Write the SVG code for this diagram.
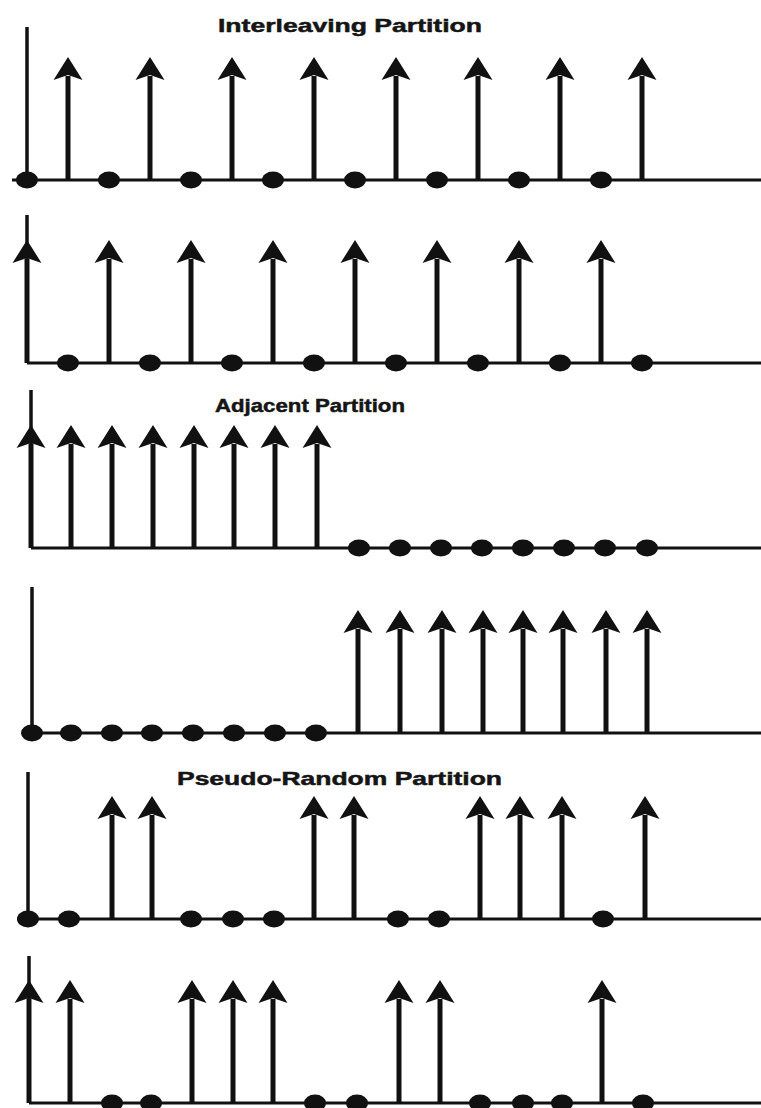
<svg xmlns="http://www.w3.org/2000/svg" xmlns:xlink="http://www.w3.org/1999/xlink" width="761" height="1108" viewBox="0 0 761 1108">
  <style>
    .axis { stroke: #111; stroke-width: 3; fill: none; }
    .yaxis { stroke: #111; stroke-width: 3.5; fill: none; }
    .dot { fill: #111; }
    .title { font-family: "Liberation Sans", Arial, sans-serif; font-weight: bold; font-size: 19px; fill: #151515; stroke: #151515; stroke-width: 0.5; }
  </style>
  <defs>
    <!-- impulse: stem plus notched arrowhead, origin on the axis -->
    <g id="impulse">
      <line x1="0" y1="0" x2="0" y2="-104" stroke="#111" stroke-width="5"/>
      <path d="M0,-123 L14.5,-100 L0,-105 L-14.5,-100 Z" fill="#111"/>
    </g>
    <ellipse id="sample" cx="0" cy="0" rx="11" ry="8.5" class="dot"/>
  </defs>

  <!-- Interleaving partition, first set -->
  <g id="interleave-a">
    <text class="title" x="218" y="32" textLength="264" lengthAdjust="spacingAndGlyphs">Interleaving Partition</text>
    <line class="yaxis" x1="27" y1="27" x2="27" y2="180"/>
    <line class="axis" x1="12" y1="180" x2="761" y2="180"/>
    <g transform="translate(0,180)">
      <use href="#impulse" x="68"/><use href="#impulse" x="150"/><use href="#impulse" x="232"/><use href="#impulse" x="314"/>
      <use href="#impulse" x="396"/><use href="#impulse" x="478"/><use href="#impulse" x="560"/><use href="#impulse" x="642"/>
      <use href="#sample" x="27"/><use href="#sample" x="109"/><use href="#sample" x="191"/><use href="#sample" x="273"/>
      <use href="#sample" x="355"/><use href="#sample" x="437"/><use href="#sample" x="519"/><use href="#sample" x="601"/>
    </g>
  </g>

  <!-- Interleaving partition, second set -->
  <g id="interleave-b">
    <line class="yaxis" x1="27" y1="215" x2="27" y2="363"/>
    <line class="axis" x1="27" y1="363" x2="761" y2="363"/>
    <g transform="translate(0,363)">
      <use href="#impulse" x="27"/><use href="#impulse" x="109"/><use href="#impulse" x="191"/><use href="#impulse" x="273"/>
      <use href="#impulse" x="355"/><use href="#impulse" x="437"/><use href="#impulse" x="519"/><use href="#impulse" x="601"/>
      <use href="#sample" x="68"/><use href="#sample" x="150"/><use href="#sample" x="232"/><use href="#sample" x="314"/>
      <use href="#sample" x="396"/><use href="#sample" x="478"/><use href="#sample" x="560"/><use href="#sample" x="642"/>
    </g>
  </g>

  <!-- Adjacent partition, first set -->
  <g id="adjacent-a">
    <text class="title" x="215" y="412" textLength="190" lengthAdjust="spacingAndGlyphs">Adjacent Partition</text>
    <line class="yaxis" x1="31" y1="390" x2="31" y2="548"/>
    <line class="axis" x1="31" y1="548" x2="761" y2="548"/>
    <g transform="translate(0,548)">
      <use href="#impulse" x="31"/><use href="#impulse" x="71"/><use href="#impulse" x="112"/><use href="#impulse" x="153"/>
      <use href="#impulse" x="194"/><use href="#impulse" x="234"/><use href="#impulse" x="275"/><use href="#impulse" x="317"/>
      <use href="#sample" x="359"/><use href="#sample" x="400"/><use href="#sample" x="441"/><use href="#sample" x="482"/>
      <use href="#sample" x="523"/><use href="#sample" x="564"/><use href="#sample" x="605"/><use href="#sample" x="647"/>
    </g>
  </g>

  <!-- Adjacent partition, second set -->
  <g id="adjacent-b">
    <line class="yaxis" x1="32" y1="587" x2="32" y2="733"/>
    <line class="axis" x1="22" y1="733" x2="761" y2="733"/>
    <g transform="translate(0,733)">
      <use href="#sample" x="32"/><use href="#sample" x="71"/><use href="#sample" x="112"/><use href="#sample" x="152"/>
      <use href="#sample" x="193"/><use href="#sample" x="234"/><use href="#sample" x="275"/><use href="#sample" x="316"/>
      <use href="#impulse" x="358"/><use href="#impulse" x="400"/><use href="#impulse" x="442"/><use href="#impulse" x="483"/>
      <use href="#impulse" x="523"/><use href="#impulse" x="563"/><use href="#impulse" x="606"/><use href="#impulse" x="647"/>
    </g>
  </g>

  <!-- Pseudo-random partition, first set -->
  <g id="random-a">
    <text class="title" x="177" y="785" textLength="325" lengthAdjust="spacingAndGlyphs">Pseudo-Random Partition</text>
    <line class="yaxis" x1="28" y1="772" x2="28" y2="919"/>
    <line class="axis" x1="17" y1="919" x2="761" y2="919"/>
    <g transform="translate(0,919)">
      <use href="#sample" x="28"/><use href="#sample" x="69"/>
      <use href="#impulse" x="112"/><use href="#impulse" x="152"/>
      <use href="#sample" x="191"/><use href="#sample" x="233"/><use href="#sample" x="274"/>
      <use href="#impulse" x="314"/><use href="#impulse" x="354"/>
      <use href="#sample" x="398"/><use href="#sample" x="439"/>
      <use href="#impulse" x="480"/><use href="#impulse" x="520"/><use href="#impulse" x="562"/>
      <use href="#sample" x="603"/>
      <use href="#impulse" x="645"/>
    </g>
  </g>

  <!-- Pseudo-random partition, second set -->
  <g id="random-b">
    <line class="yaxis" x1="29" y1="956" x2="29" y2="1103"/>
    <line class="axis" x1="29" y1="1103" x2="761" y2="1103"/>
    <g transform="translate(0,1103)">
      <use href="#impulse" x="29"/><use href="#impulse" x="70"/>
      <use href="#sample" x="112"/><use href="#sample" x="151"/>
      <use href="#impulse" x="192"/><use href="#impulse" x="233"/><use href="#impulse" x="273"/>
      <use href="#sample" x="315"/><use href="#sample" x="357"/>
      <use href="#impulse" x="399"/><use href="#impulse" x="440"/>
      <use href="#sample" x="480"/><use href="#sample" x="523"/><use href="#sample" x="562"/>
      <use href="#impulse" x="602"/>
      <use href="#sample" x="643"/>
    </g>
  </g>
</svg>
